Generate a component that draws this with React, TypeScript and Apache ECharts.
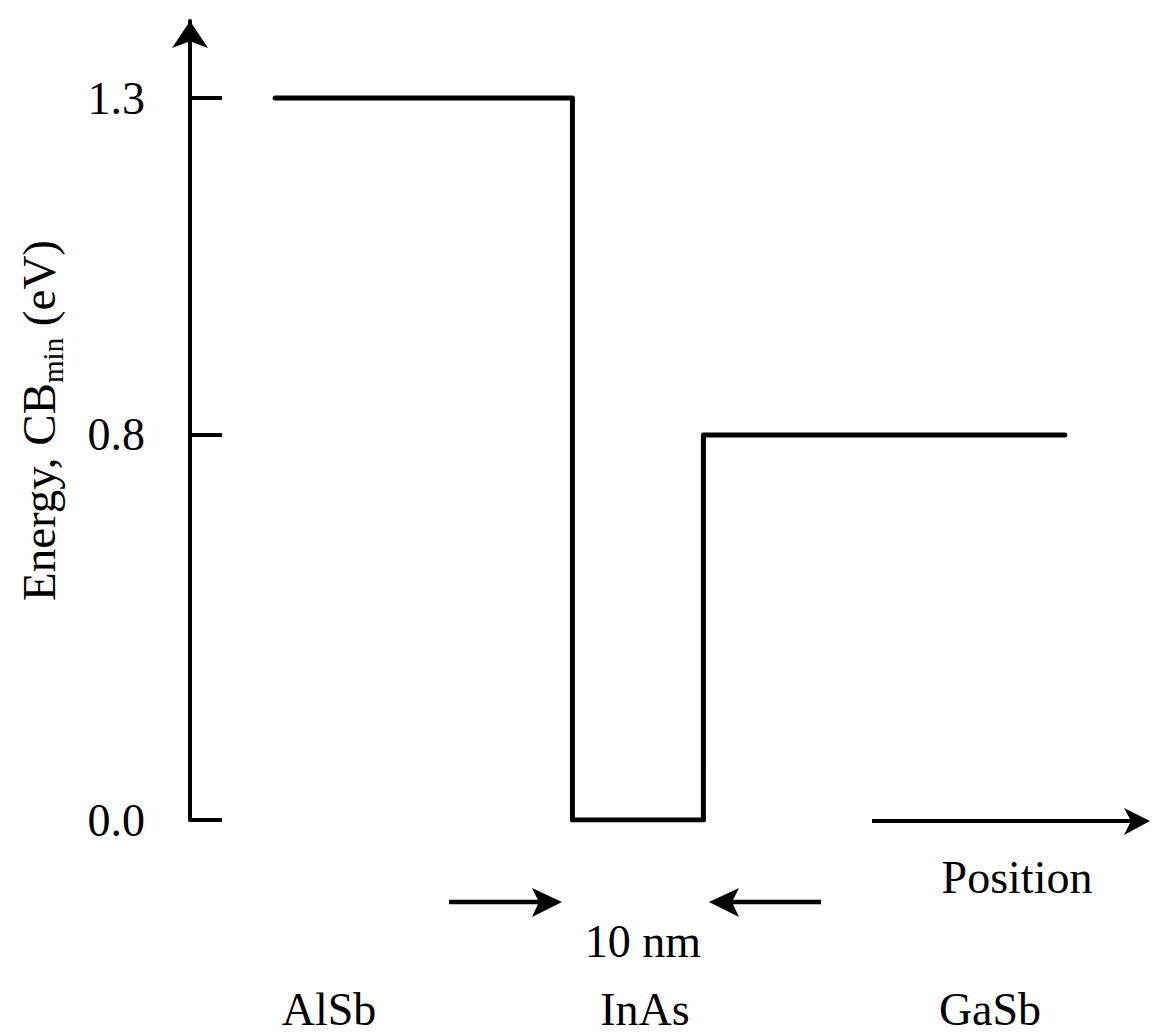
import React, { useEffect, useRef } from "react";
import * as echarts from "echarts";

// Position along growth direction (nm) and conduction-band minimum (eV)
const positionNm = [-22.7, 0, 0, 10, 10, 37.6];
const cbMinEv = [1.3, 1.3, 0.0, 0.0, 0.8, 0.8];

// Energy tick values and labels
const tickEv = [0.0, 0.8, 1.3];
const tickLabels = ["0.0", "0.8", "1.3"];

// Layer names
const layers = ["AlSb", "InAs", "GaSb"];

// Schematic (non-linear) energy axis: eV knots -> axis units
const knotEv = [0.0, 0.8, 1.3];
const knotAxis = [0, 8, 15];
function toAxis(e: number): number {
  for (let i = 1; i < knotEv.length; i++) {
    if (e <= knotEv[i] || i === knotEv.length - 1) {
      const t = (e - knotEv[i - 1]) / (knotEv[i] - knotEv[i - 1]);
      return knotAxis[i - 1] + t * (knotAxis[i] - knotAxis[i - 1]);
    }
  }
  return 0;
}

const FONT = '"Liberation Serif", "Times New Roman", serif';

export default function App() {
  const ref = useRef<HTMLDivElement>(null);
  useEffect(() => {
    const chart = echarts.init(ref.current!, null, { renderer: "svg" });
    const tickAxis = tickEv.map(toAxis);
    const seriesData = positionNm.map((x, i) => [x, toAxis(cbMinEv[i])]);
    const txt = (text: string, x: number, y: number) => ({
      type: "text",
      x,
      y,
      style: {
        text,
        font: `46px ${FONT}`,
        fill: "#000",
        textAlign: "center",
        textVerticalAlign: "middle",
      },
    });
    chart.setOption({
      animation: false,
      backgroundColor: "#fff",
      grid: { left: 190, right: 12, top: 21, bottom: 214 },
      xAxis: { type: "value", min: -29.2, max: 44.1, show: false },
      yAxis: {
        type: "value",
        min: 0,
        max: 16.6,
        axisLine: {
          show: true,
          onZero: false,
          lineStyle: { color: "#000", width: 4 },
          symbol: ["none", "arrow"],
          symbolSize: [27, 27],
        },
        axisTick: {
          show: true,
          inside: true,
          length: 32,
          lineStyle: { color: "#000", width: 4 },
          customValues: tickAxis,
        },
        axisLabel: {
          customValues: tickAxis,
          margin: 45,
          fontSize: 46,
          fontFamily: FONT,
          color: "#000",
          formatter: (v: number) => {
            const i = tickAxis.findIndex((t) => Math.abs(t - v) < 1e-6);
            return i >= 0 ? tickLabels[i] : "";
          },
        },
        splitLine: { show: false },
        name: "{t|Energy, CB}{s|min}{t| (eV)}",
        nameLocation: "middle",
        nameRotate: 90,
        nameGap: 123,
        nameTextStyle: {
          rich: {
            t: { fontSize: 47, fontFamily: FONT, color: "#000", lineHeight: 56, verticalAlign: "middle" },
            s: { fontSize: 29, fontFamily: FONT, color: "#000", lineHeight: 56, verticalAlign: "bottom" },
          },
        },
      },
      series: [
        {
          type: "line",
          data: seriesData,
          symbol: "none",
          lineStyle: { color: "#000", width: 5, join: "round", cap: "round" },
        },
      ],
      graphic: [
        // Position arrow
        { type: "line", shape: { x1: 872, y1: 821, x2: 1135, y2: 821 }, style: { stroke: "#000", lineWidth: 4 } },
        { type: "polygon", shape: { points: [[1150, 821], [1124, 808], [1131, 821], [1124, 835]] }, style: { fill: "#000" } },
        txt("Position", 1017, 877),
        // 10 nm arrows
        { type: "line", shape: { x1: 449, y1: 902, x2: 540, y2: 902 }, style: { stroke: "#000", lineWidth: 4.5 } },
        { type: "polygon", shape: { points: [[562, 902], [532, 888], [539, 902], [532, 917]] }, style: { fill: "#000" } },
        { type: "line", shape: { x1: 731, y1: 902, x2: 821, y2: 902 }, style: { stroke: "#000", lineWidth: 4.5 } },
        { type: "polygon", shape: { points: [[709, 902], [739, 888], [732, 902], [739, 917]] }, style: { fill: "#000" } },
        txt("10 nm", 643, 941),
        txt(layers[0], 329, 1009),
        txt(layers[1], 645, 1009),
        txt(layers[2], 990, 1009),
      ],
    });
    return () => chart.dispose();
  }, []);
  return (
    <div
      ref={ref}
      style={{ position: "fixed", left: 0, top: 0, width: 1162, height: 1034, background: "#fff" }}
    />
  );
}
